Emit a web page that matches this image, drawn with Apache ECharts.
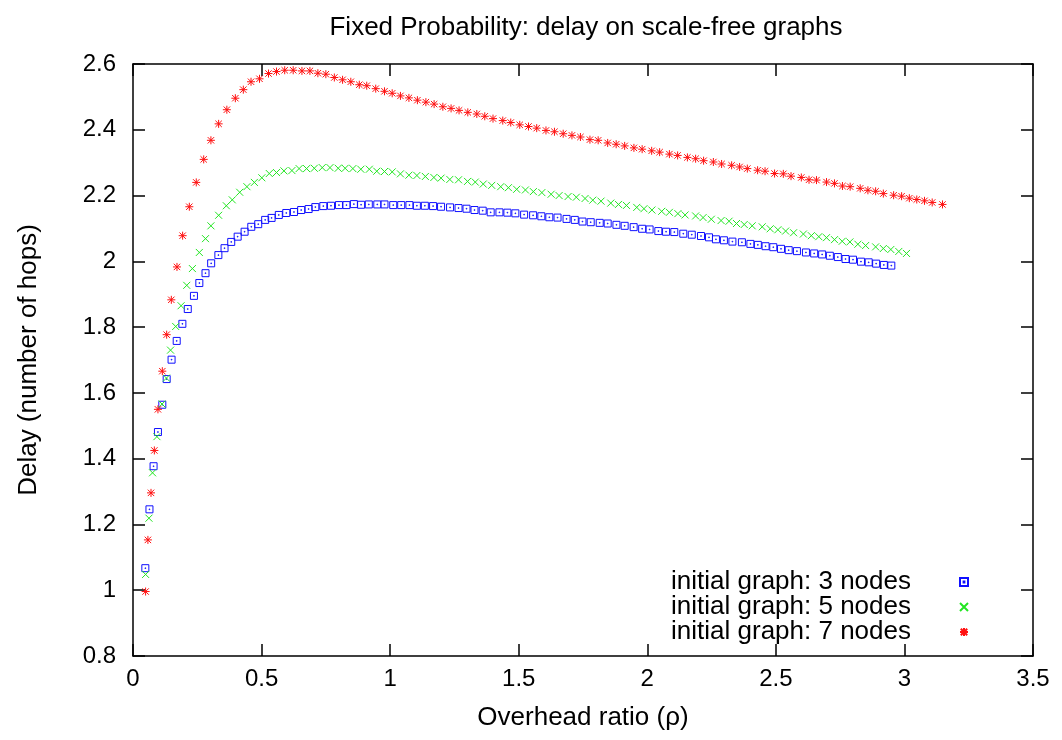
<!DOCTYPE html>
<html>
<head>
<meta charset="utf-8">
<script src="https://cdn.jsdelivr.net/npm/echarts@6/dist/echarts.min.js"></script>
<style>
  html, body { margin: 0; padding: 0; background: #fff; }
  #chart { width: 1062px; height: 740px; }
</style>
</head>
<body>
<div id="chart"></div>
<script>
// Labels
const titleText = 'Fixed Probability: delay on scale-free graphs';
const xAxisName = 'Overhead ratio (\u03c1)';
const yAxisName = 'Delay (number of hops)';
const seriesNames = ['initial graph: 3 nodes', 'initial graph: 5 nodes', 'initial graph: 7 nodes'];

// Tick values
const xTicks = [0, 0.5, 1, 1.5, 2, 2.5, 3, 3.5];
const yTicks = [0.8, 1, 1.2, 1.4, 1.6, 1.8, 2, 2.2, 2.4, 2.6];

// Initial graph: 3 nodes
const overhead3 = [
  0.048, 0.064, 0.080, 0.097, 0.114, 0.131, 0.150, 0.170, 0.192, 0.213,
  0.237, 0.258, 0.282, 0.304, 0.332, 0.356, 0.382, 0.407, 0.434, 0.460,
  0.487, 0.514, 0.539, 0.567, 0.596, 0.626, 0.654, 0.683, 0.709, 0.740,
  0.770, 0.801, 0.830, 0.859, 0.887, 0.917, 0.950, 0.978, 1.012, 1.043,
  1.075, 1.104, 1.135, 1.167, 1.198, 1.233, 1.266, 1.297, 1.328, 1.360,
  1.391, 1.425, 1.456, 1.487, 1.521, 1.556, 1.588, 1.619, 1.651, 1.686,
  1.718, 1.748, 1.780, 1.815, 1.846, 1.880, 1.912, 1.947, 1.980, 2.009,
  2.043, 2.073, 2.105, 2.140, 2.173, 2.209, 2.240, 2.267, 2.298, 2.331,
  2.368, 2.401, 2.430, 2.460, 2.490, 2.520, 2.550, 2.582, 2.617, 2.649,
  2.680, 2.710, 2.741, 2.771, 2.800, 2.831, 2.861, 2.890, 2.920, 2.949
];
const delay3 = [
  1.067, 1.246, 1.377, 1.481, 1.564, 1.642, 1.701, 1.758, 1.810, 1.855,
  1.895, 1.934, 1.964, 1.994, 2.019, 2.040, 2.059, 2.075, 2.090, 2.105,
  2.113, 2.126, 2.132, 2.141, 2.147, 2.150, 2.156, 2.159, 2.165, 2.168,
  2.169, 2.171, 2.171, 2.174, 2.172, 2.173, 2.173, 2.173, 2.171, 2.171,
  2.171, 2.169, 2.169, 2.168, 2.166, 2.164, 2.162, 2.160, 2.156, 2.154,
  2.149, 2.149, 2.148, 2.146, 2.142, 2.140, 2.137, 2.134, 2.133, 2.129,
  2.126, 2.121, 2.119, 2.117, 2.115, 2.111, 2.108, 2.104, 2.099, 2.097,
  2.092, 2.090, 2.089, 2.084, 2.081, 2.077, 2.073, 2.067, 2.064, 2.060,
  2.058, 2.053, 2.050, 2.046, 2.043, 2.038, 2.034, 2.031, 2.027, 2.024,
  2.021, 2.017, 2.013, 2.007, 2.005, 1.999, 1.997, 1.993, 1.989, 1.987
];

// Initial graph: 5 nodes
const overhead5 = [
  0.049, 0.062, 0.076, 0.093, 0.113, 0.130, 0.146, 0.166, 0.187, 0.209,
  0.231, 0.258, 0.282, 0.303, 0.333, 0.363, 0.386, 0.415, 0.443, 0.472,
  0.501, 0.530, 0.558, 0.587, 0.618, 0.646, 0.675, 0.705, 0.736, 0.766,
  0.798, 0.825, 0.855, 0.886, 0.919, 0.948, 0.978, 1.008, 1.040, 1.073,
  1.104, 1.137, 1.170, 1.198, 1.232, 1.266, 1.301, 1.331, 1.362, 1.395,
  1.430, 1.460, 1.492, 1.526, 1.557, 1.590, 1.626, 1.657, 1.692, 1.724,
  1.758, 1.788, 1.820, 1.858, 1.888, 1.919, 1.959, 1.987, 2.018, 2.056,
  2.086, 2.119, 2.147, 2.188, 2.217, 2.249, 2.287, 2.318, 2.347, 2.377,
  2.408, 2.447, 2.478, 2.508, 2.538, 2.569, 2.607, 2.638, 2.667, 2.697,
  2.728, 2.758, 2.788, 2.819, 2.849, 2.888, 2.918, 2.947, 2.978, 3.008
];
const delay5 = [
  1.048, 1.219, 1.357, 1.467, 1.566, 1.645, 1.730, 1.802, 1.865, 1.927,
  1.978, 2.027, 2.069, 2.108, 2.140, 2.169, 2.187, 2.210, 2.227, 2.240,
  2.254, 2.267, 2.270, 2.275, 2.276, 2.282, 2.282, 2.283, 2.285, 2.285,
  2.283, 2.283, 2.282, 2.280, 2.280, 2.274, 2.273, 2.272, 2.266, 2.262,
  2.261, 2.258, 2.255, 2.253, 2.249, 2.248, 2.243, 2.241, 2.235, 2.231,
  2.227, 2.224, 2.219, 2.217, 2.212, 2.209, 2.204, 2.200, 2.197, 2.195,
  2.191, 2.186, 2.183, 2.177, 2.173, 2.170, 2.164, 2.160, 2.156, 2.152,
  2.149, 2.145, 2.141, 2.138, 2.133, 2.128, 2.124, 2.122, 2.115, 2.112,
  2.108, 2.105, 2.099, 2.096, 2.092, 2.087, 2.083, 2.078, 2.075, 2.072,
  2.066, 2.061, 2.059, 2.052, 2.048, 2.044, 2.039, 2.036, 2.030, 2.024
];

// Initial graph: 7 nodes
const overhead7 = [
  0.049, 0.058, 0.070, 0.083, 0.097, 0.114, 0.131, 0.149, 0.171, 0.193,
  0.219, 0.246, 0.275, 0.303, 0.333, 0.365, 0.398, 0.429, 0.459, 0.492,
  0.527, 0.558, 0.590, 0.623, 0.657, 0.688, 0.719, 0.750, 0.783, 0.815,
  0.847, 0.880, 0.909, 0.944, 0.978, 1.008, 1.040, 1.073, 1.106, 1.139,
  1.171, 1.205, 1.237, 1.268, 1.302, 1.337, 1.368, 1.400, 1.438, 1.469,
  1.504, 1.538, 1.570, 1.606, 1.639, 1.673, 1.707, 1.740, 1.777, 1.809,
  1.846, 1.879, 1.912, 1.948, 1.980, 2.017, 2.048, 2.086, 2.118, 2.156,
  2.188, 2.219, 2.257, 2.289, 2.328, 2.359, 2.389, 2.429, 2.458, 2.495,
  2.529, 2.559, 2.599, 2.629, 2.658, 2.697, 2.728, 2.759, 2.789, 2.828,
  2.858, 2.888, 2.918, 2.958, 2.989, 3.019, 3.048, 3.078, 3.108, 3.148
];
const delay7 = [
  0.996, 1.153, 1.296, 1.425, 1.550, 1.666, 1.777, 1.883, 1.983, 2.078,
  2.166, 2.240, 2.310, 2.368, 2.418, 2.461, 2.496, 2.522, 2.546, 2.555,
  2.571, 2.577, 2.581, 2.581, 2.579, 2.579, 2.572, 2.569, 2.559, 2.552,
  2.546, 2.537, 2.534, 2.525, 2.517, 2.511, 2.503, 2.497, 2.490, 2.484,
  2.478, 2.470, 2.465, 2.459, 2.453, 2.448, 2.441, 2.434, 2.428, 2.422,
  2.415, 2.410, 2.405, 2.398, 2.394, 2.388, 2.383, 2.378, 2.370, 2.368,
  2.360, 2.356, 2.351, 2.345, 2.341, 2.336, 2.332, 2.326, 2.322, 2.316,
  2.312, 2.306, 2.302, 2.296, 2.292, 2.287, 2.282, 2.277, 2.274, 2.267,
  2.266, 2.259, 2.255, 2.248, 2.247, 2.241, 2.237, 2.229, 2.227, 2.222,
  2.216, 2.213, 2.206, 2.201, 2.198, 2.192, 2.188, 2.184, 2.179, 2.173
];

const FONT = '"Liberation Sans", Arial, Helvetica, sans-serif';

// Point shapes: open square with a centre dot, a cross, and an asterisk
const SYM_SQUARE = 'path://M0,0H10V10H0Z M4.5,4.5H5.5V5.5H4.5Z';
const SYM_CROSS = 'path://M0,0L10,10M10,0L0,10';
const SYM_STAR = 'path://M5,0V10M0,5H10M1,1L9,9M9,1L1,9';

function pairs(xs, ys) {
  return xs.map((x, i) => [x, ys[i]]);
}

const axisLineStyle = { color: '#000', width: 1.5 };
const tickStyle = { inside: true, length: 12, lineStyle: { color: '#000', width: 1.5 } };

function xAxisCfg(position, withLabels) {
  return {
    type: 'value',
    position: position,
    min: xTicks[0],
    max: xTicks[xTicks.length - 1],
    interval: xTicks[1] - xTicks[0],
    axisLine: { show: true, onZero: false, lineStyle: axisLineStyle },
    axisTick: tickStyle,
    splitLine: { show: false },
    axisLabel: withLabels
      ? { show: true, color: '#000', fontSize: 24, fontFamily: FONT, margin: 11 }
      : { show: false },
    name: withLabels ? xAxisName : '',
    nameLocation: 'middle',
    nameGap: 49,
    nameTextStyle: { color: '#000', fontSize: 26, fontFamily: FONT }
  };
}

function yAxisCfg(position, withLabels) {
  return {
    type: 'value',
    position: position,
    min: yTicks[0],
    max: yTicks[yTicks.length - 1],
    interval: 0.2,
    axisLine: { show: true, onZero: false, lineStyle: axisLineStyle },
    axisTick: tickStyle,
    splitLine: { show: false },
    axisLabel: withLabels
      ? { show: true, color: '#000', fontSize: 24, fontFamily: FONT, margin: 17 }
      : { show: false },
    name: withLabels ? yAxisName : '',
    nameLocation: 'middle',
    nameGap: 91,
    nameTextStyle: { color: '#000', fontSize: 26, fontFamily: FONT }
  };
}

function scatterSeries(name, xs, ys, symbol, color, size) {
  return {
    type: 'scatter',
    name: name,
    xAxisIndex: 0,
    yAxisIndex: 0,
    data: pairs(xs, ys),
    symbol: symbol,
    symbolSize: size,
    symbolKeepAspect: true,
    itemStyle: { color: 'rgba(0,0,0,0)', borderColor: color, borderWidth: 1, opacity: 1 },
    emphasis: { disabled: true },
    animation: false
  };
}

const chart = echarts.init(document.getElementById('chart'), null, { renderer: 'canvas' });
chart.setOption({
  backgroundColor: '#fff',
  animation: false,
  title: {
    text: titleText,
    left: 581,
    top: 10,
    textAlign: 'center',
    textStyle: { color: '#000', fontSize: 26, fontWeight: 'normal', fontFamily: FONT }
  },
  grid: { left: 133, right: 29, top: 64, bottom: 84, containLabel: false },
  legend: {
    orient: 'vertical',
    align: 'right',
    right: 88,
    top: 564,
    itemWidth: 96,
    itemHeight: 8,
    itemGap: -1,
    selectedMode: false,
    data: seriesNames,
    textStyle: { color: '#000', fontSize: 26, fontFamily: FONT }
  },
  xAxis: [xAxisCfg('bottom', true), xAxisCfg('top', false)],
  yAxis: [yAxisCfg('left', true), yAxisCfg('right', false)],
  series: [
    scatterSeries(seriesNames[0], overhead3, delay3, SYM_SQUARE, '#1010ff', 7),
    scatterSeries(seriesNames[1], overhead5, delay5, SYM_CROSS, '#22e622', 7),
    scatterSeries(seriesNames[2], overhead7, delay7, SYM_STAR, '#ff1010', 8)
  ]
});
</script>
</body>
</html>
